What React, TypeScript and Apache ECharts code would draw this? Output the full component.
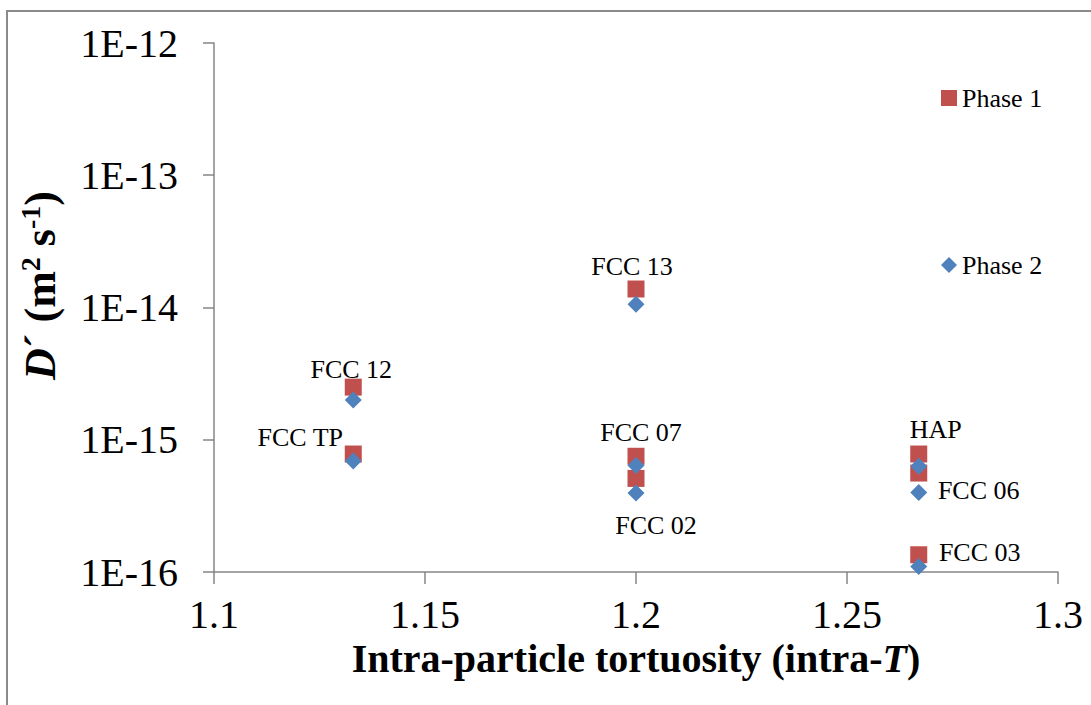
import React, { useEffect, useRef } from "react";
import * as echarts from "echarts";

// ---- data ----
const samples = ["FCC 12", "FCC TP", "FCC 13", "FCC 07", "FCC 02", "HAP", "FCC 06", "FCC 03"];
const intraT = [1.133, 1.133, 1.2, 1.2, 1.2, 1.267, 1.267, 1.267];
const phase1 = [2.5e-15, 7.8e-16, 1.38e-14, 7.5e-16, 5.1e-16, 7.8e-16, 5.6e-16, 1.35e-16];
const phase2 = [2.0e-15, 6.9e-16, 1.06e-14, 6.4e-16, 3.95e-16, 6.3e-16, 4.0e-16, 1.1e-16];
const seriesNames = ["Phase 1", "Phase 2"];
const xTickValues = [1.1, 1.15, 1.2, 1.25, 1.3];
const yTickLabels = ["1E-16", "1E-15", "1E-14", "1E-13", "1E-12"];

// label placement (which series carries the label, offset from the marker centre)
const labelPlacement: Record<string, { series: number; dx: number; dy: number }> = {
  "FCC 12": { series: 0, dx: -2, dy: -18 },
  "FCC TP": { series: 0, dx: -53, dy: -17 },
  "FCC 13": { series: 0, dx: -4, dy: -23 },
  "FCC 07": { series: 0, dx: 5, dy: -24 },
  "FCC 02": { series: 1, dx: 20, dy: 32 },
  HAP: { series: 0, dx: 17, dy: -25 },
  "FCC 06": { series: 1, dx: 60, dy: -2 },
  "FCC 03": { series: 0, dx: 61, dy: -2 },
};

const RED = "#C0504D";
const BLUE = "#4F81BD";
const FONT = "'Liberation Serif', 'Times New Roman', serif";

function buildData(values: number[], seriesIdx: number) {
  return samples.map((name, i) => {
    const p = labelPlacement[name];
    const item: any = { name, value: [intraT[i], values[i]] };
    if (p && p.series === seriesIdx) {
      item.label = {
        show: true,
        position: "inside",
        offset: [p.dx, p.dy],
        formatter: name,
        color: "#000",
        fontFamily: FONT,
        fontSize: 26,
      };
    }
    return item;
  });
}

export default function App() {
  const ref = useRef<HTMLDivElement>(null);
  useEffect(() => {
    if (!ref.current) return;
    const chart = echarts.init(ref.current, undefined, { renderer: "svg" });
    const axisColor = "#868686";
    chart.setOption({
      animation: false,
      backgroundColor: "#fff",
      textStyle: { fontFamily: FONT },
      graphic: [
        {
          type: "rect",
          shape: { x: 7, y: 11, width: 1110, height: 720 },
          style: { fill: "none", stroke: "#8a8a8a", lineWidth: 2 },
          silent: true,
        },
      ],
      grid: { left: 214, right: 33, top: 43, bottom: 133 },
      legend: {
        orient: "vertical",
        left: 936,
        top: 80,
        itemGap: 141,
        itemWidth: 16,
        itemHeight: 16,
        textStyle: { fontFamily: FONT, fontSize: 26, color: "#000" },
        data: [
          { name: seriesNames[0], icon: "rect" },
          { name: seriesNames[1], icon: "diamond" },
        ],
      },
      xAxis: {
        type: "value",
        min: 1.1,
        max: 1.3,
        interval: 0.05,
        name: "Intra-particle tortuosity (intra-{it|T})",
        nameLocation: "middle",
        nameGap: 60,
        nameTextStyle: {
          fontFamily: FONT,
          fontSize: 40,
          fontWeight: "bold",
          color: "#000",
          rich: { it: { fontFamily: FONT, fontSize: 40, fontWeight: "bold", fontStyle: "italic", color: "#000" } },
        },
        axisLine: { show: true, lineStyle: { color: axisColor, width: 1.5 } },
        axisTick: { show: true, length: 12, lineStyle: { color: axisColor, width: 1.5 } },
        splitLine: { show: false },
        axisLabel: {
          margin: 22,
          fontFamily: FONT,
          fontSize: 40,
          color: "#000",
          formatter: (v: number) => {
            const m = xTickValues.find((t) => Math.abs(t - v) < 1e-9);
            return m !== undefined ? String(m) : "";
          },
        },
      },
      yAxis: {
        type: "log",
        logBase: 10,
        min: 1e-16,
        max: 1e-12,
        name: "{i|D}{b|´ (m}{s|2}{b| s}{s|-1}{b|)}",
        nameLocation: "middle",
        nameGap: 150,
        nameRotate: 90,
        nameTextStyle: {
          fontFamily: FONT,
          color: "#000",
          padding: [0, 0, 0, 44],
          rich: {
            i: { fontFamily: FONT, fontSize: 44, fontWeight: "bold", fontStyle: "italic", color: "#000", lineHeight: 48 },
            b: { fontFamily: FONT, fontSize: 44, fontWeight: "bold", color: "#000", lineHeight: 48 },
            s: { fontFamily: FONT, fontSize: 28, fontWeight: "bold", color: "#000", verticalAlign: "top", lineHeight: 48, padding: [0, 0, 16, 0] },
          },
        },
        axisLine: { show: true, lineStyle: { color: axisColor, width: 1.5 } },
        axisTick: { show: true, length: 11, lineStyle: { color: axisColor, width: 1.5 } },
        splitLine: { show: false },
        axisLabel: {
          margin: 36,
          fontFamily: FONT,
          fontSize: 40,
          color: "#000",
          formatter: (v: number) => {
            const idx = Math.round(Math.log10(v)) + 16;
            return yTickLabels[idx] ?? "";
          },
        },
      },
      series: [
        {
          name: seriesNames[0],
          type: "scatter",
          symbol: "rect",
          symbolSize: 17,
          itemStyle: { color: RED, opacity: 1 },
          data: buildData(phase1, 0),
          z: 2,
        },
        {
          name: seriesNames[1],
          type: "scatter",
          symbol: "diamond",
          symbolSize: 17,
          itemStyle: { color: BLUE, opacity: 1 },
          data: buildData(phase2, 1),
          z: 3,
        },
      ],
    });
    return () => chart.dispose();
  }, []);
  return (
    <div
      ref={ref}
      style={{ position: "fixed", left: 0, top: 0, width: 1091, height: 705, background: "#fff" }}
    />
  );
}
